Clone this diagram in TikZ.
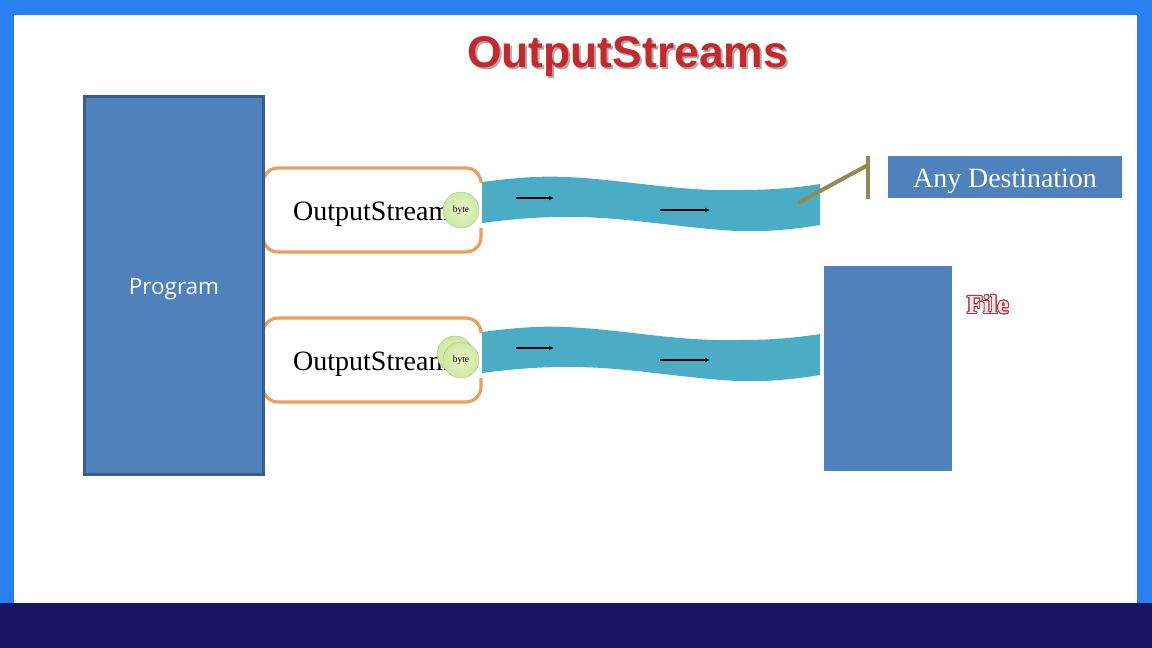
\documentclass[tikz,border=0pt]{standalone}
\usepackage{fontspec}
\usepackage{xcolor}
\usepackage{contour}
\usetikzlibrary{arrows.meta, calc, positioning, shadings}
\setmainfont{Liberation Serif}
\newfontfamily\titlefont{Liberation Sans}
\newfontfamily\progfont{Open Sans}
\contourlength{0.9pt}
\definecolor{frameblue}{HTML}{2A80F2}
\definecolor{bandblue}{HTML}{1A1464}
\definecolor{panelblue}{HTML}{4F81BD}
\definecolor{paneledge}{HTML}{385D8A}
\definecolor{waveblue}{HTML}{4BACC6}
\definecolor{boxorange}{HTML}{E8A05C}
\definecolor{olive}{HTML}{938953}
\definecolor{titlered}{HTML}{C6282C}
\definecolor{fileedge}{HTML}{A8323E}
\definecolor{bytein}{HTML}{EAF5C8}
\definecolor{byteout}{HTML}{CDE8A4}
\definecolor{byteedge}{HTML}{A9C484}
\newcommand{\bytetext}{\raisebox{-2.2pt}[0pt][0pt]{byte}}
\tikzset{
    panel/.style={fill=panelblue, inner sep=0pt},
    paneltext/.style={text=white, inner sep=0pt},
    bytedot/.style={circle, draw=byteedge, inner color=bytein, outer color=byteout, minimum size=36pt, inner sep=0pt, font=\fontsize{9.5}{9.5}\selectfont},
    flow/.style={-{Latex[length=5pt,width=5pt]}, line width=1.4pt, black},
    streamlabel/.style={font=\fontsize{28}{28}\selectfont, inner sep=0pt},
    titletext/.style={font=\titlefont\bfseries\fontsize{44.4}{44.4}\selectfont}
}
\begin{document}
\begin{tikzpicture}[x=1pt,y=-1pt]
\useasboundingbox (0,0) rectangle (1152,648);
% Slide frame
\fill[frameblue] (0,0) rectangle (1152,648);
\fill[white] (14,15) rectangle (1137,603);
\fill[bandblue] (0,603) rectangle (1152,648);

% Title
\node[titletext, text=gray!65] (titleshadow) at (629.5,59) {OutputStreams};
\node[titletext, text=titlered] (title) at (627.5,57) {OutputStreams};

% Two streams
\foreach \row/\ys in {a/0,b/150} {
\begin{scope}[shift={(0,\ys)}]
\fill[waveblue] (482,182) .. controls (520,177) and (545,176) .. (565,177)
    .. controls (620,179) and (680,192) .. (740,190)
    .. controls (770,190) and (795,188) .. (820,184)
    -- (820,225) .. controls (795,229) and (770,232) .. (737,231)
    .. controls (680,228) and (620,216) .. (565,217)
    .. controls (545,217) and (520,218) .. (482,223) -- cycle;
\draw[boxorange, line width=3.2pt, rounded corners=15pt] (481,180) -- (481,168) -- (263,168) -- (263,252) -- (481,252) -- (481,228);
\node[streamlabel, anchor=west] (label\row) at (293,214) {OutputStream};
\coordinate (flow\row1) at (516,198);
\coordinate (tip\row1) at (554,198);
\coordinate (flow\row2) at (660,210);
\coordinate (tip\row2) at (710,210);
\draw[flow] (flow\row1) -- (tip\row1);
\draw[flow] (flow\row2) -- (tip\row2);
\end{scope}
}

% Program and targets
\node[panel, draw=paneledge, line width=3pt, minimum width=179pt, minimum height=378pt] (program) at (174,285) {};
\node[paneltext, font=\progfont\fontsize{22.5}{22.5}\selectfont] (programlabel) at (174,289) {Program};
\node[panel, minimum width=128pt, minimum height=205pt] (file) at (888,368.5) {};
\node[font=\bfseries\fontsize{26}{26}\selectfont, inner sep=0pt] (filelabel) at (988,305) {\contour{fileedge}{\textcolor{red!10}{File}}};
\node[panel, minimum width=234pt, minimum height=42pt] (dest) at (1005,177) {};
\node[paneltext, font=\fontsize{27.9}{27.9}\selectfont] (destlabel) at (1005,181) {Any Destination};

% Bytes
\node[bytedot] (byteback) at (455,354) {};
\node[bytedot] (bytea) at (461,210) {\bytetext};
\node[bytedot] (byteb) at (461,360) {\bytetext};

% Tap in front of the destination
\coordinate (tapstart) at (798,203);
\coordinate (tapjoint) at (868,165);
\coordinate (tapup) at (868,156);
\coordinate (tapdown) at (868,199);
\draw[olive, line width=4pt] (tapstart) -- (tapjoint);
\draw[olive, line width=4pt] (tapup) -- (tapdown);
\end{tikzpicture}
\end{document}
